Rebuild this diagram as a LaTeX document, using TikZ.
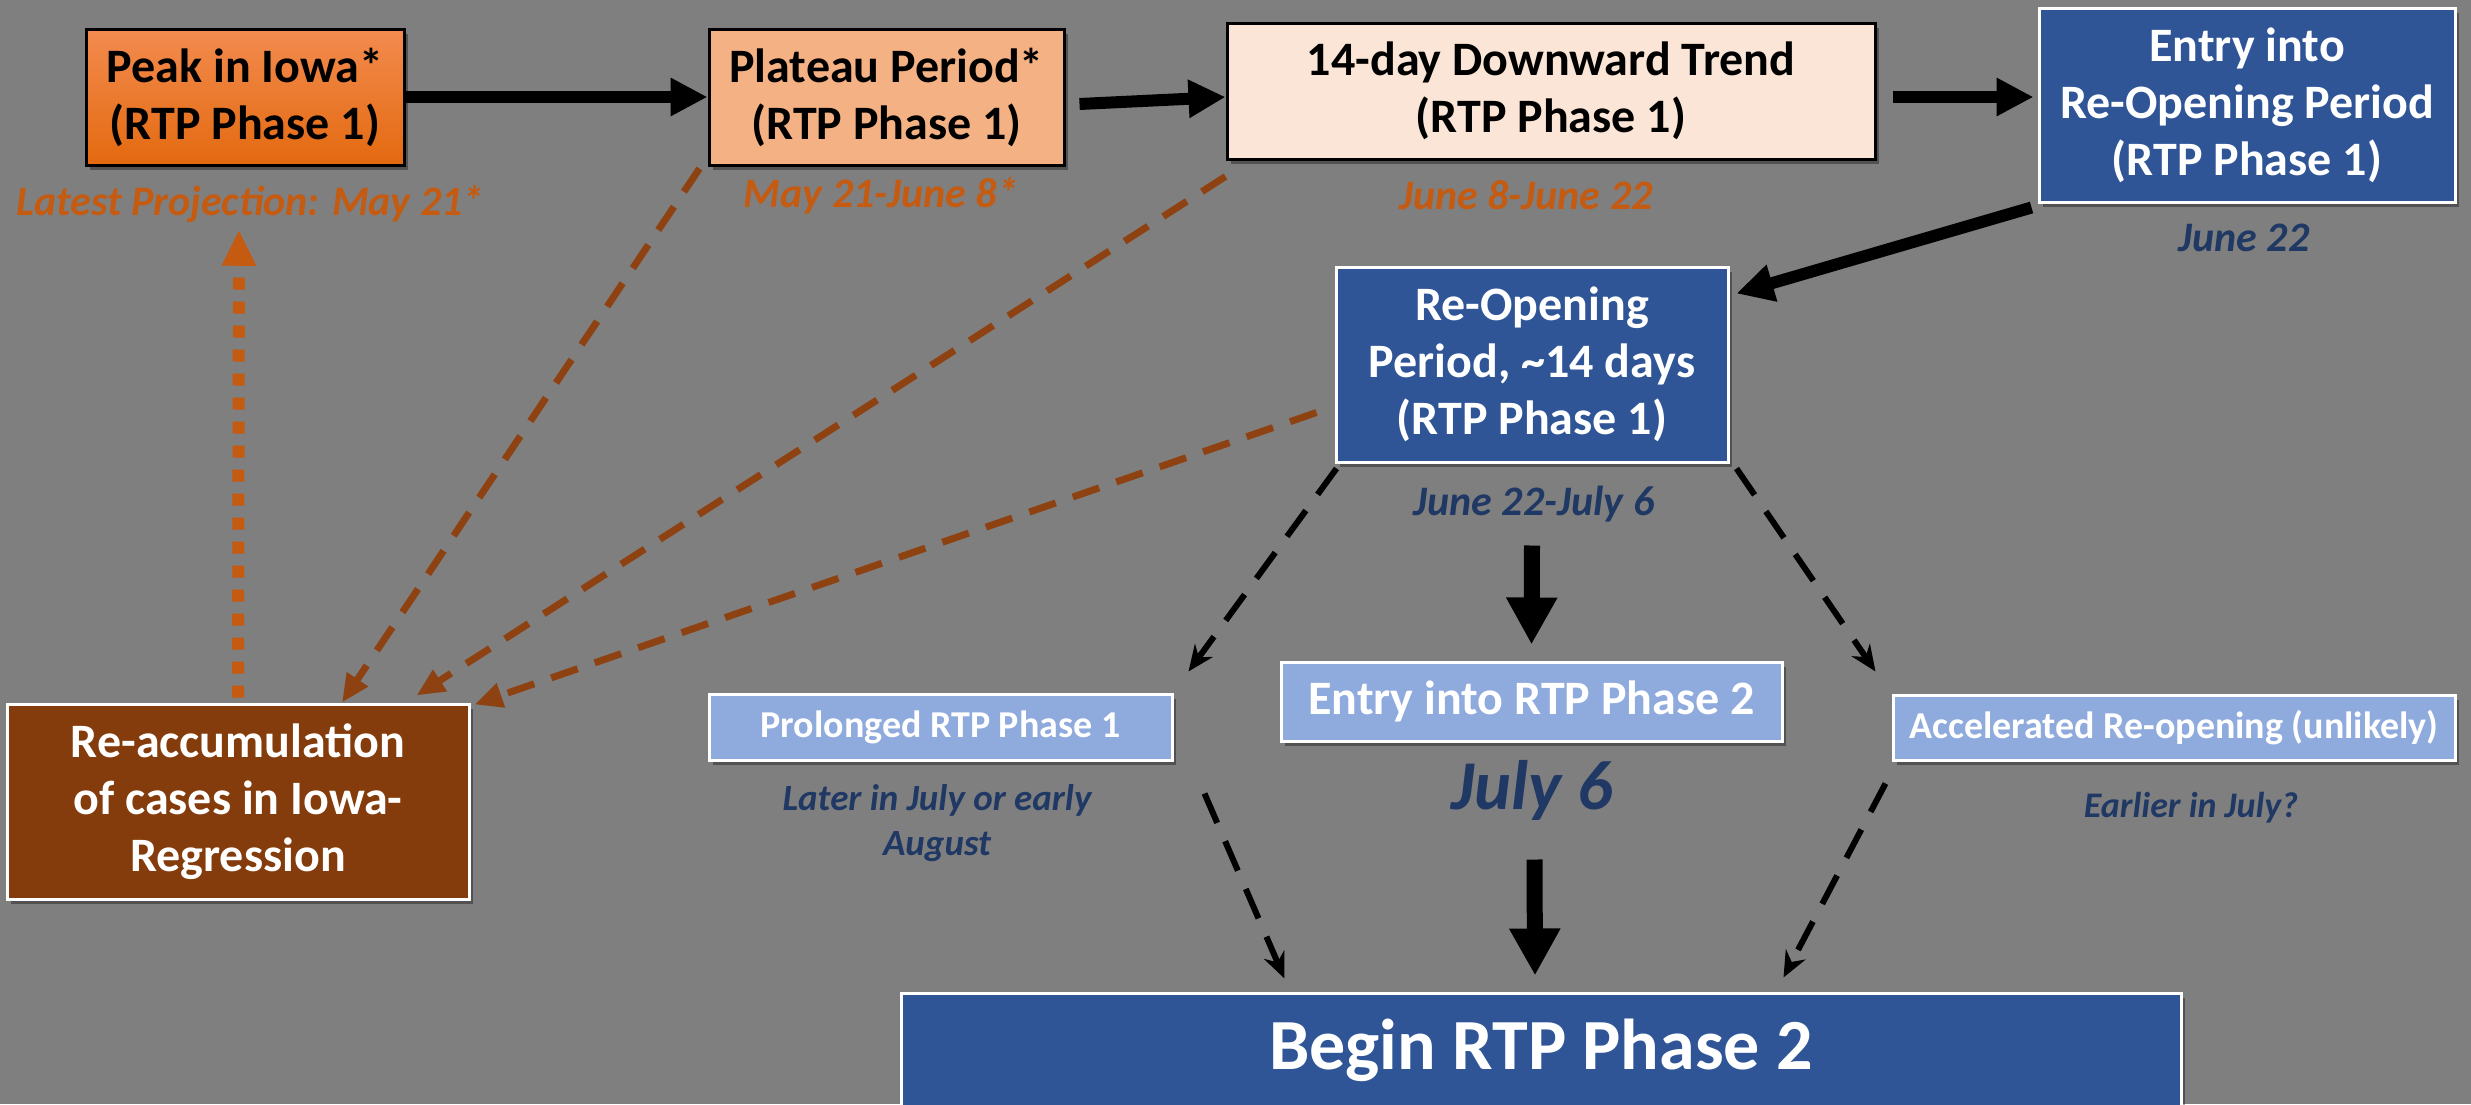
\documentclass[tikz,border=0pt]{standalone}
\usepackage{fontspec}
\setmainfont{Carlito}
\usetikzlibrary{arrows.meta,shadows}
\definecolor{bg}{HTML}{7F7F7F}
\definecolor{pkTop}{HTML}{F38B4F}
\definecolor{pkBot}{HTML}{E3690F}
\definecolor{plat}{HTML}{F4B183}
\definecolor{down}{HTML}{FBE5D6}
\definecolor{dblue}{HTML}{2F5597}
\definecolor{lblue}{HTML}{8FAADC}
\definecolor{brownbox}{HTML}{843C0C}
\definecolor{brownline}{HTML}{8E4212}
\definecolor{orlabel}{HTML}{C55A11}
\definecolor{bllabel}{HTML}{203864}
\begin{document}
\begin{tikzpicture}[x=1pt,y=-1pt,
  shad/.style={drop shadow={shadow xshift=4pt,shadow yshift=-5pt,opacity=0.35,fill=black}},
  bigfont/.style={font=\fontsize{48}{57}\selectfont\bfseries},
  smallfont/.style={font=\fontsize{38}{44}\selectfont\bfseries},
  topbox/.style={shad,draw=black,line width=3pt,inner sep=0pt,align=center,bigfont,text=black},
  bluebox/.style={shad,draw=white,line width=3pt,fill=dblue,inner sep=0pt,align=center,bigfont,text=white},
  lightbox/.style={shad,draw=white,line width=3pt,fill=lblue,inner sep=0pt,align=center,text=white},
  orlab/.style={font=\fontsize{42}{45}\selectfont\bfseries\itshape,text=orlabel,inner sep=0pt,align=center},
  bllab/.style={font=\fontsize{42}{45}\selectfont\bfseries\itshape,text=bllabel,inner sep=0pt,align=center},
  thickarrow/.style={draw=black,line width=12pt,-{Triangle[length=37pt,width=36pt]}},
  vertarrow/.style={draw=black,line width=16pt,-{Triangle[length=47pt,width=48pt]}},
  blackdash/.style={draw=black,line width=6pt,dash pattern=on 32pt off 20pt,-{Stealth[length=26pt,width=22pt]}},
  browndash/.style={draw=brownline,line width=7pt,dash pattern=on 28pt off 18pt,-{Triangle[length=28pt,width=24pt]}},
  oradot/.style={draw=orlabel,line width=12pt,dash pattern=on 12pt off 12pt,-{Triangle[length=36pt,width=32pt]}}
]
\useasboundingbox (0,0) rectangle (2471,1104);
\clip (0,0) rectangle (2471,1104);
\fill[bg] (0,0) rectangle (2471,1104);

% top row
\node[topbox,top color=pkTop,bottom color=pkBot,minimum width=318pt,minimum height=136pt] (peak) at (245,97) {Peak in Iowa*\\(RTP Phase 1)};
\node[topbox,fill=plat,minimum width=355pt,minimum height=136pt] (plat) at (886.5,97) {Plateau Period*\\(RTP Phase 1)};
\node[topbox,fill=down,minimum width=648pt,minimum height=136pt] (down) at (1551,91) {14-day Downward Trend\\(RTP Phase 1)};
\node[bluebox,minimum width=416pt,minimum height=194pt] (entry) at (2247,105) {Entry into\\Re-Opening Period\\(RTP Phase 1)};

% labels top
\node[orlab] (lpeak) at (250,204) {Latest Projection: May 21*};
\node[orlab] (lplat) at (881,196) {May 21-June 8*};
\node[orlab] (ldown) at (1526,195) {June 8-June 22};
\node[bllab] (lentry) at (2244,238) {June 22};

% middle
\node[bluebox,minimum width=392pt,minimum height=195pt] (reopen) at (1532,364.5) {Re-Opening\\Period, \textasciitilde14 days\\(RTP Phase 1)};
\node[bllab] (lreopen) at (1534,504) {June 22-July 6};

\node[shad,draw=white,line width=3pt,fill=brownbox,inner sep=0pt,align=center,bigfont,text=white,minimum width=462pt,minimum height=195pt] (reacc) at (238,801.5) {Re-accumulation\\of cases in Iowa-\\Regression};

\node[lightbox,smallfont,minimum width=463pt,minimum height=66pt] (prol) at (940.5,727) {Prolonged RTP Phase 1};
\node[lightbox,bigfont,minimum width=501pt,minimum height=79pt] (entry2) at (1531.5,701.5) {Entry into RTP Phase 2};
\node[lightbox,smallfont,minimum width=562pt,minimum height=65pt] (accel) at (2174,727.5) {Accelerated Re-opening (unlikely)};

\node[bllab,font=\fontsize{37}{45}\selectfont\bfseries\itshape] (lprol) at (937,823) {Later in July or early\\August};
\node[bllab,font=\fontsize{70}{80}\selectfont\bfseries\itshape] (lentry2) at (1532,790) {July 6};
\node[bllab,font=\fontsize{36}{45}\selectfont\bfseries\itshape] (laccel) at (2191,808) {Earlier in July?};

\node[bluebox,font=\fontsize{72}{86}\selectfont\bfseries,minimum width=1280pt,minimum height=114pt] (begin) at (1541,1050) {Begin RTP Phase 2};

% solid arrows
\draw[thickarrow] (peak.east) -- (plat.west);
\draw[thickarrow] ([xshift=14pt,yshift=-7pt]plat.east) -- ([yshift=-6pt]down.west);
\draw[thickarrow] ([xshift=16pt,yshift=-6pt]down.east) -- ([xshift=-4pt,yshift=8pt]entry.west);
\draw[thickarrow] ([xshift=-6pt,yshift=-4pt]entry.south west) -- ([xshift=7pt,yshift=-28pt]reopen.north east);
\draw[vertarrow] ([yshift=-82pt]reopen.south) -- ([yshift=16pt]entry2.north);
\draw[vertarrow] ([yshift=-117pt,xshift=3pt]entry2.south) -- ([yshift=16pt,xshift=-6pt]begin.north);

% black dashed
\draw[blackdash] ([xshift=2pt,yshift=-5pt]reopen.south west) -- ([xshift=15pt,yshift=21pt]prol.north east);
\draw[blackdash] ([xshift=7pt,yshift=-5pt]reopen.south east) -- ([xshift=-16pt,yshift=22pt]accel.north west);
\draw[blackdash] ([xshift=31pt,yshift=-32pt]prol.south east) -- ([xshift=385pt,yshift=13pt]begin.north west);
\draw[blackdash] ([xshift=-6pt,yshift=-22pt]accel.south west) -- ([xshift=-399pt,yshift=14pt]begin.north east);

% brown dashed
\draw[browndash] ([xshift=-8pt,yshift=-2pt]plat.south west) -- ([xshift=104pt]reacc.north);
\draw[browndash] ([yshift=-16pt]down.south west) -- ([xshift=-54pt,yshift=7pt]reacc.north east);
\draw[browndash] ([xshift=-18pt,yshift=-48pt]reopen.west) -- ([xshift=4pt,yshift=-2pt]reacc.north east);

% orange dotted
\draw[oradot] ([yshift=5pt]reacc.north) -- ([xshift=-11pt,yshift=-7pt]lpeak.south);
\end{tikzpicture}
\end{document}
